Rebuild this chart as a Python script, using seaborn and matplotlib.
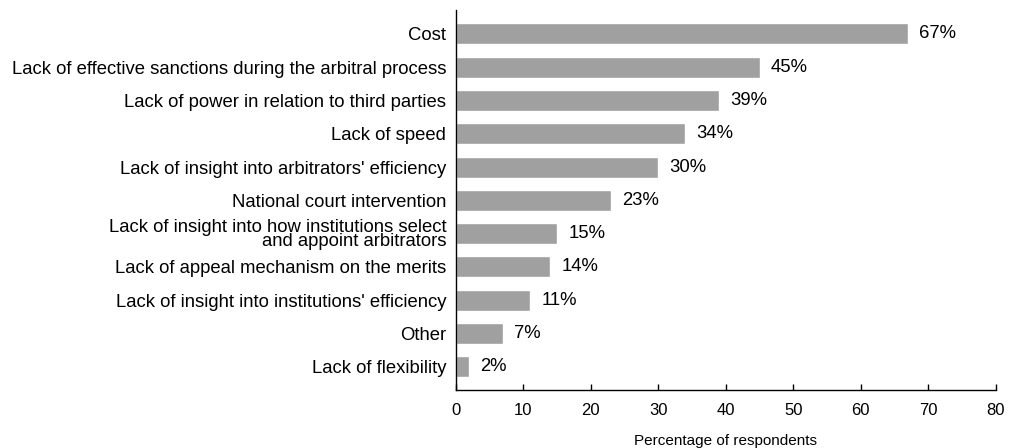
import matplotlib
matplotlib.use("Agg")
import matplotlib.pyplot as plt
import seaborn as sns
import pandas as pd

categories = [
    "Cost",
    "Lack of effective sanctions during the arbitral process",
    "Lack of power in relation to third parties",
    "Lack of speed",
    "Lack of insight into arbitrators' efficiency",
    "National court intervention",
    "Lack of insight into how institutions select\nand appoint arbitrators",
    "Lack of appeal mechanism on the merits",
    "Lack of insight into institutions' efficiency",
    "Other",
    "Lack of flexibility",
]
values = [67, 45, 39, 34, 30, 23, 15, 14, 11, 7, 2]
x_ticks = [0, 10, 20, 30, 40, 50, 60, 70, 80]
x_title = "Percentage of respondents"

sns.set_theme(style="white")
plt.rcParams["font.family"] = ["Liberation Sans", "DejaVu Sans"]
plt.rcParams["text.color"] = "black"
plt.rcParams["xtick.color"] = "black"
plt.rcParams["ytick.color"] = "black"
plt.rcParams["axes.labelcolor"] = "black"

df = pd.DataFrame({"category": categories, "value": values})

fig = plt.figure(figsize=(10.11, 4.48), dpi=100)
ax = fig.add_axes([0.451, 0.129, 0.534, 0.849])

sns.barplot(data=df, y="category", x="value", orient="h", color="#a0a0a0",
            saturation=1, width=0.63, ax=ax)

for i, v in enumerate(values):
    ax.annotate(f"{v}%", xy=(v, i), xytext=(8, 0), textcoords="offset points",
                va="center", ha="left", fontsize=13.3, color="black")

ax.set_xlim(0, 80)
ax.set_ylim(len(categories) - 0.3, -0.72)
ax.set_xticks(x_ticks)
ax.set_xticklabels([str(t) for t in x_ticks], fontsize=12)
ax.set_ylabel("")
ax.set_xlabel(x_title, fontsize=11, labelpad=12)
ax.tick_params(axis="x", bottom=True, direction="in", length=4, width=1,
               color="black", pad=9)
ax.tick_params(axis="y", left=False, length=0, pad=7)
for lbl in ax.get_yticklabels():
    lbl.set_fontsize(13.3)
    lbl.set_linespacing(0.82)
    lbl.set_multialignment("right")

for side in ["top", "right"]:
    ax.spines[side].set_visible(False)
for side in ["left", "bottom"]:
    ax.spines[side].set_color("black")
    ax.spines[side].set_linewidth(1)

fig.savefig("out.png", dpi=100, facecolor="white")
